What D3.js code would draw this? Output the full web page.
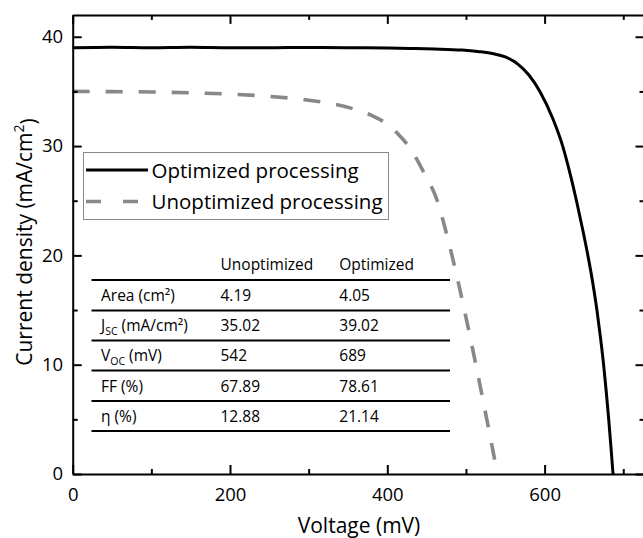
<!DOCTYPE html>
<html><head><meta charset="utf-8">
<script src="https://cdn.jsdelivr.net/npm/d3@7"></script>
<style>html,body{margin:0;padding:0;background:#fff;} svg{display:block;font-family:"Open Sans",sans-serif;}</style>
</head><body><svg id="c" width="643" height="538"></svg>
<script>
// ---- data ----
const optV  = [0, 50, 100, 150, 200, 250, 300, 350, 400, 430, 460, 495, 515, 535, 550, 566, 580, 594, 610.5, 623, 632.3, 640.5, 648, 655, 661.2, 666.5, 671, 675, 678.4, 681.5, 684.3, 687];
const optJ  = [39.0, 39.05, 39.0, 39.05, 39.0, 39.0, 39.02, 39.0, 38.97, 38.93, 38.88, 38.78, 38.65, 38.45, 38.15, 37.5, 36.5, 35.0, 32.5, 30.0, 27.5, 25.0, 22.5, 20.0, 17.5, 15.0, 12.5, 10.0, 7.5, 5.0, 2.5, 0];
const unoptV = [0, 50, 100, 150, 200, 250, 300, 335, 357, 380, 400, 415, 427, 447, 463.5, 473.4, 482.2, 490.3, 498, 505.4, 512.6, 519.6, 526.5, 533.3, 540];
const unoptJ = [35.0, 34.98, 34.95, 34.87, 34.75, 34.55, 34.2, 33.8, 33.4, 32.8, 32.0, 31.0, 30.0, 27.5, 25.0, 22.5, 20.0, 17.5, 15.0, 12.5, 10.0, 7.5, 5.0, 2.5, 0];
const xTicks = [0, 200, 400, 600];
const xMinor = [100, 300, 500, 700];
const yTicks = [0, 10, 20, 30, 40];
const yMinor = [5, 15, 25, 35];
const xTitle = "Voltage (mV)";
const yTitle = "Current density (mA/cm";
const legendLabels = ["Optimized processing", "Unoptimized processing"];
const tableHeader = ["Unoptimized", "Optimized"];
const rowLabels = [
  [["Area (cm²)", 0]],
  [["J", 0], ["SC", 1], [" (mA/cm²)", 0]],
  [["V", 0], ["OC", 1], [" (mV)", 0]],
  [["FF (%)", 0]],
  [["η (%)", 0]]
];
const unoptParams = ["4.19", "35.02", "542", "67.89", "12.88"];
const optParams   = ["4.05", "39.02", "689", "78.61", "21.14"];

// ---- layout ----
const svg = d3.select("#c");
const X0 = 72.7, X1 = 644.5, Y0 = 474, Y1 = 14.9;
const x = d3.scaleLinear().domain([0, 727]).range([X0, X1]);
const y = d3.scaleLinear().domain([0, 42]).range([Y0, Y1]);

// curves
const line = d3.line().x(d => x(d[0])).y(d => y(d[1])).curve(d3.curveMonotoneX);
svg.append("path").datum(unoptV.map((v, i) => [v, unoptJ[i]]))
  .attr("d", line).attr("fill", "none").attr("stroke", "#888")
  .attr("stroke-width", 3.6).attr("stroke-dasharray", "17,16");
svg.append("path").datum(optV.map((v, i) => [v, optJ[i]]))
  .attr("d", line).attr("fill", "none").attr("stroke", "#000")
  .attr("stroke-width", 3).attr("stroke-linejoin", "round");

// axes
function styleAxis(g, fs) {
  g.select(".domain").attr("stroke", "#000").attr("stroke-width", 2);
  g.selectAll(".tick line").attr("stroke", "#000").attr("stroke-width", 2);
  g.selectAll(".tick text").attr("fill", "#000").style("font-size", fs + "px").style("font-family", "Open Sans");
}
const gB = svg.append("g").attr("transform", `translate(0,${Y0})`)
  .call(d3.axisBottom(x).tickValues(xTicks).tickSize(-9).tickSizeOuter(0).tickPadding(14).tickFormat(d3.format("d")));
styleAxis(gB, 18.5);
const gBm = svg.append("g").attr("transform", `translate(0,${Y0})`)
  .call(d3.axisBottom(x).tickValues(xMinor).tickSize(-5).tickSizeOuter(0).tickFormat(""));
styleAxis(gBm, 18); gBm.select(".domain").remove();

const gT = svg.append("g").attr("transform", `translate(0,${Y1})`)
  .call(d3.axisTop(x).tickValues(xTicks).tickSize(-9).tickSizeOuter(0).tickFormat(""));
styleAxis(gT, 18);
const gTm = svg.append("g").attr("transform", `translate(0,${Y1})`)
  .call(d3.axisTop(x).tickValues(xMinor).tickSize(-5).tickSizeOuter(0).tickFormat(""));
styleAxis(gTm, 18); gTm.select(".domain").remove();

const gL = svg.append("g").attr("transform", `translate(${X0},0)`)
  .call(d3.axisLeft(y).tickValues(yTicks).tickSize(-9).tickSizeOuter(0).tickPadding(9.5).tickFormat(d3.format("d")));
styleAxis(gL, 18.5);
const gLm = svg.append("g").attr("transform", `translate(${X0},0)`)
  .call(d3.axisLeft(y).tickValues(yMinor).tickSize(-5).tickSizeOuter(0).tickFormat(""));
styleAxis(gLm, 18); gLm.select(".domain").remove();

const gR = svg.append("g").attr("transform", `translate(${X1},0)`)
  .call(d3.axisRight(y).tickValues(yTicks).tickSize(-9).tickSizeOuter(0).tickFormat(""));
styleAxis(gR, 18);
const gRm = svg.append("g").attr("transform", `translate(${X1},0)`)
  .call(d3.axisRight(y).tickValues(yMinor).tickSize(-5).tickSizeOuter(0).tickFormat(""));
styleAxis(gRm, 18); gRm.select(".domain").remove();

// axis titles
svg.append("text").attr("x", 359).attr("y", 533).attr("text-anchor", "middle")
  .style("font-size", "21px").attr("fill", "#000").text(xTitle);
const yt = svg.append("text").attr("transform", "translate(32,242) rotate(-90)")
  .attr("text-anchor", "middle").style("font-size", "21px").attr("fill", "#000");
yt.append("tspan").text(yTitle);
yt.append("tspan").attr("dy", "-0.55em").style("font-size", "14px").text("2");
yt.append("tspan").attr("dy", "0.55em").text(")");

// legend
const lg = svg.append("g");
lg.append("rect").attr("x", 83.5).attr("y", 152.5).attr("width", 305).attr("height", 67)
  .attr("fill", "#fff").attr("stroke", "#888").attr("stroke-width", 1);
const legStyles = [{c: "#000", w: 3, d: null}, {c: "#888", w: 3.6, d: "15,22"}];
const legY = [170, 201.5];
legendLabels.forEach((lab, i) => {
  lg.append("line").attr("x1", 86).attr("x2", 148).attr("y1", legY[i]).attr("y2", legY[i])
    .attr("stroke", legStyles[i].c).attr("stroke-width", legStyles[i].w)
    .attr("stroke-dasharray", legStyles[i].d);
  lg.append("text").attr("x", 151.5).attr("y", legY[i] + 7.5).style("font-size", "20.5px")
    .attr("fill", "#000").text(lab);
});

// table
const tb = svg.append("g");
const colX = [101, 220.5, 339.3];
const lineY = [280, 310.5, 340.5, 370.5, 401, 431];
tableHeader.forEach((h, i) => {
  tb.append("text").attr("x", colX[i + 1]).attr("y", 270).style("font-size", "15.5px").attr("fill", "#000").text(h);
});
lineY.forEach(ly => {
  tb.append("line").attr("x1", 91.5).attr("x2", 450).attr("y1", ly).attr("y2", ly)
    .attr("stroke", "#000").attr("stroke-width", 2);
});
rowLabels.forEach((segs, r) => {
  const by = lineY[r + 1] - 9.5;
  const t = tb.append("text").attr("x", colX[0]).attr("y", by).style("font-size", "15.5px").attr("fill", "#000");
  let sub = false;
  segs.forEach(([s, isSub]) => {
    const ts = t.append("tspan").text(s);
    if (isSub && !sub) { ts.attr("dy", 3.5).style("font-size", "10.5px"); sub = true; }
    else if (!isSub && sub) { ts.attr("dy", -3.5); sub = false; }
  });
  tb.append("text").attr("x", colX[1]).attr("y", by).style("font-size", "15.5px").attr("fill", "#000").text(unoptParams[r]);
  tb.append("text").attr("x", colX[2]).attr("y", by).style("font-size", "15.5px").attr("fill", "#000").text(optParams[r]);
});
</script></body></html>
